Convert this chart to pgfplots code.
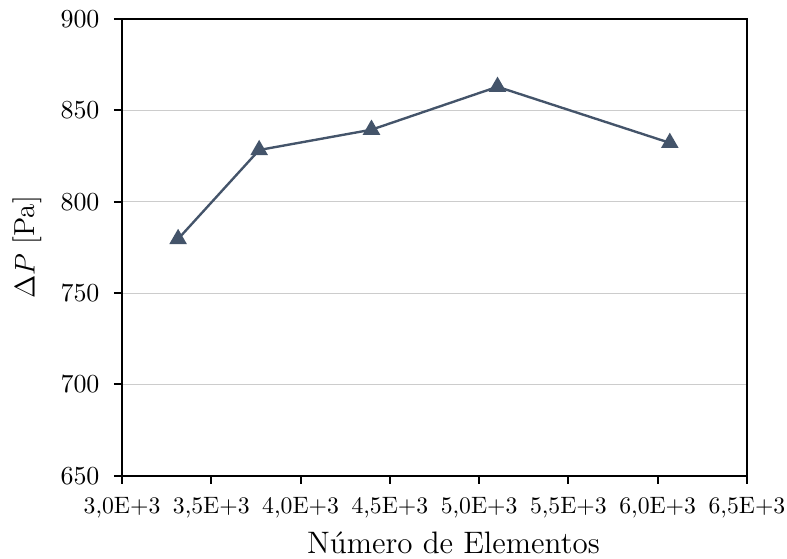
\documentclass[border=0pt]{standalone}
\usepackage{pgfplots}
\pgfplotsset{compat=1.18}
\definecolor{serie}{HTML}{44546A}
\begin{document}
\begin{tikzpicture}
\begin{axis}[
  scale only axis,
  width=263.7pt, height=192.8pt,
  xmin=3000, xmax=6500, ymin=650, ymax=900,
  xtick={3000,3500,4000,4500,5000,5500,6000,6500},
  xticklabels={3{,}0E+3,3{,}5E+3,4{,}0E+3,4{,}5E+3,5{,}0E+3,5{,}5E+3,6{,}0E+3,6{,}5E+3},
  ytick={650,700,750,800,850,900},
  tick align=outside,
  tick pos=left,
  major tick length=3.4pt,
  axis line style={line width=0.85pt},
  every tick/.style={black, line width=0.85pt},
  ymajorgrids,
  grid style={gray!40, line width=0.45pt},
  xticklabel style={font=\fontsize{10}{12}\selectfont, yshift=-2.1pt},
  yticklabel style={font=\fontsize{11}{13}\selectfont, xshift=-2.6pt},
  xlabel={Número de Elementos},
  ylabel={$\Delta P$ [Pa]},
  xlabel style={font=\fontsize{13.1}{16}\selectfont, at={([xshift=8pt,yshift=-32.9pt]axis description cs:0.5,0)}, anchor=base},
  ylabel style={font=\fontsize{12.2}{15}\selectfont, at={([xshift=-39.9pt]axis description cs:0,0.5)}, anchor=center},
]
\addplot[color=serie, line width=1pt, mark=triangle*, mark size=3.3pt,
  mark options={fill=serie, draw=serie}]
  coordinates {
    (3314,779.6)
    (3768,828.3)
    (4397,839.4)
    (5103,862.9)
    (6068,832.2)
  };
\coordinate (sw) at (rel axis cs:0,0);
\coordinate (ne) at (rel axis cs:1,1);
\end{axis}
\pgfresetboundingbox
\path[use as bounding box] ([xshift=-51.5pt,yshift=-35pt]sw) rectangle ([xshift=16.9pt,yshift=8pt]ne);
\end{tikzpicture}
\end{document}
